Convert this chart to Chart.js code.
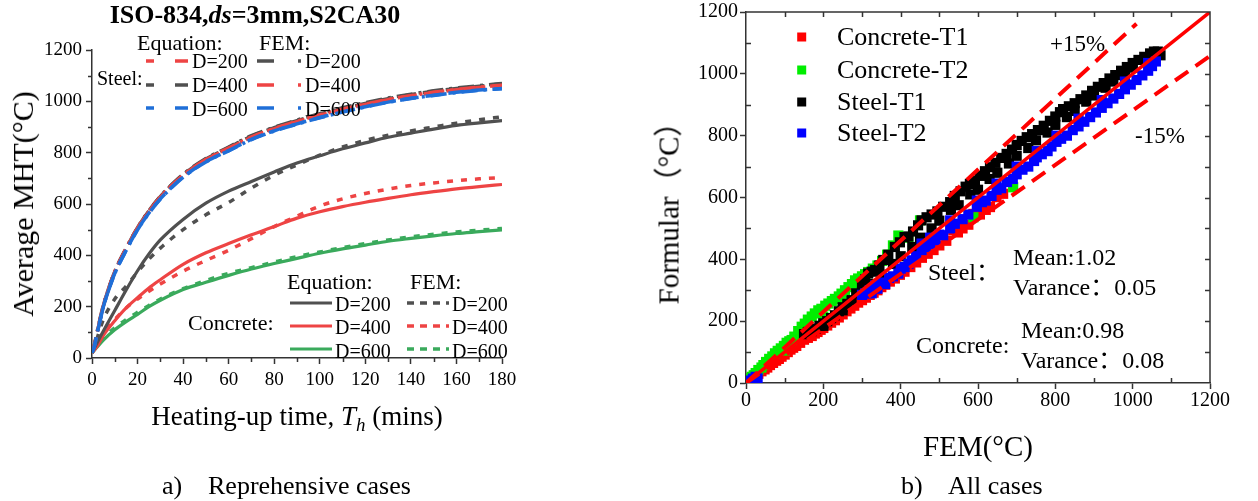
<!DOCTYPE html>
<html><head><meta charset="utf-8">
<script src="https://cdn.jsdelivr.net/npm/chart.js@4.4.1/dist/chart.umd.min.js"></script>
<style>
html,body{margin:0;padding:0;background:#fff}
body{width:1258px;height:501px;position:relative;overflow:hidden;font-family:"Liberation Serif","Times New Roman","Noto Sans CJK SC",serif;color:#000}
canvas{position:absolute;top:0}
#c1{left:0}
#c2{left:629px}
.t{position:absolute;white-space:nowrap;line-height:1;transform:translateY(-50%)}
.c{transform:translate(-50%,-50%)}
.r{transform:translate(-50%,-50%) rotate(-90deg)}
.cj{font-family:"Liberation Serif","Noto Sans CJK SC",serif}
</style></head>
<body>
<canvas id="c1" width="629" height="501"></canvas>
<canvas id="c2" width="629" height="501"></canvas>

<!-- panel a texts -->
<div class="t c" style="left:255px;top:15px;font-size:26px;font-weight:bold">ISO-834,<i>ds</i>=3mm,S2CA30</div>
<div class="t" style="left:137px;top:43px;font-size:22px">Equation:</div>
<div class="t" style="left:259px;top:43px;font-size:22px">FEM:</div>
<div class="t" style="left:97px;top:78px;font-size:20px">Steel:</div>
<div class="t" style="left:192px;top:61px;font-size:20px">D=200</div>
<div class="t" style="left:192px;top:85px;font-size:20px">D=400</div>
<div class="t" style="left:192px;top:109px;font-size:20px">D=600</div>
<div class="t" style="left:305px;top:61px;font-size:20px">D=200</div>
<div class="t" style="left:305px;top:85px;font-size:20px">D=400</div>
<div class="t" style="left:305px;top:109px;font-size:20px">D=600</div>
<div class="t" style="left:287px;top:282px;font-size:22px">Equation:</div>
<div class="t" style="left:410px;top:282px;font-size:22px">FEM:</div>
<div class="t" style="left:188px;top:323px;font-size:22px">Concrete:</div>
<div class="t" style="left:335px;top:304px;font-size:20px">D=200</div>
<div class="t" style="left:335px;top:327px;font-size:20px">D=400</div>
<div class="t" style="left:335px;top:351px;font-size:20px">D=600</div>
<div class="t" style="left:452px;top:304px;font-size:20px">D=200</div>
<div class="t" style="left:452px;top:327px;font-size:20px">D=400</div>
<div class="t" style="left:452px;top:351px;font-size:20px">D=600</div>
<div class="t r" style="left:23px;top:204px;font-size:30px">Average MHT(°C)</div>
<div class="t c" style="left:297px;top:416px;font-size:27px">Heating-up time, <i>T</i><sub style="font-size:0.7em;line-height:0;vertical-align:-0.35em"><i>h</i></sub> (mins)</div>
<div class="t" style="left:162px;top:486px;font-size:26px">a)</div>
<div class="t" style="left:208px;top:486px;font-size:26px">Reprehensive cases</div>

<!-- panel b texts -->
<div class="t" style="left:837px;top:37px;font-size:26px">Concrete-T1</div>
<div class="t" style="left:837px;top:70px;font-size:26px">Concrete-T2</div>
<div class="t" style="left:837px;top:102px;font-size:26px">Steel-T1</div>
<div class="t" style="left:837px;top:133px;font-size:26px">Steel-T2</div>
<div class="t" style="left:1050px;top:43px;font-size:23px">+15%</div>
<div class="t" style="left:1135px;top:135px;font-size:23px">-15%</div>
<div class="t cj" style="left:928px;top:272px;font-size:24px">Steel：</div>
<div class="t" style="left:1013px;top:257px;font-size:24px">Mean:1.02</div>
<div class="t cj" style="left:1013px;top:287px;font-size:24px">Varance：0.05</div>
<div class="t" style="left:916px;top:345px;font-size:24px">Concrete:</div>
<div class="t" style="left:1021px;top:330px;font-size:24px">Mean:0.98</div>
<div class="t cj" style="left:1021px;top:360px;font-size:24px">Varance：0.08</div>
<div class="t c" style="left:978px;top:446px;font-size:29px">FEM(°C)</div>
<div class="t r cj" style="left:669px;top:206px;font-size:29px">Formular（°C）</div>
<div class="t" style="left:901px;top:486px;font-size:26px">b)</div>
<div class="t" style="left:948px;top:486px;font-size:26px">All cases</div>

<script>
// ---------- panel a data ----------
const timeSteel = [0,1,2,3,5,7.5,10,15,20,25,30,35,40,50,60,70,80,90,100,110,120,130,140,150,160,170,180];
const steelEqD200  = [20,46,87,127,203,273,334,425,505,570,626,671,711,772,816,860,893,921,946,968,988,1006,1021,1034,1045,1054,1062];
const steelEqD400  = [20,47,88,128,204,275,336,427,507,573,629,674,714,775,820,864,897,925,950,972,992,1010,1026,1039,1050,1059,1068];
const steelEqD600  = [20,45,85,125,200,270,330,420,500,565,620,665,705,765,808,852,885,912,937,959,979,997,1012,1024,1035,1044,1050];
const steelFemD200 = [20,50,92,132,206,276,337,428,508,574,630,676,716,777,822,866,899,927,952,975,995,1013,1028,1041,1052,1061,1070];
const steelFemD400 = [20,48,89,129,204,274,335,426,506,571,627,672,712,773,818,861,894,922,947,969,989,1007,1022,1035,1046,1055,1063];
const steelFemD600 = [20,44,84,124,199,269,329,419,499,564,619,664,704,764,807,851,884,911,936,958,978,996,1011,1023,1034,1043,1049];

const timeConc = [0,2,5,10,15,20,25,30,40,50,60,70,80,90,100,110,120,130,140,150,160,170,180];
const concEqD200  = [20,55,105,185,265,340,405,460,540,603,650,688,725,760,788,815,838,860,876,892,906,916,925];
const concFemD200 = [20,70,150,230,280,335,385,428,500,558,606,662,712,752,790,822,848,868,885,900,915,928,940];
const concEqD400  = [20,42,88,145,195,235,273,305,365,410,446,480,512,545,570,590,607,622,636,648,659,668,676];
const concFemD400 = [20,48,95,150,195,230,260,288,338,380,420,465,512,553,592,620,641,658,672,682,691,698,703];
const concEqD600  = [20,40,70,110,142,170,200,225,267,295,322,347,368,388,408,425,440,455,466,476,485,492,499];
const concFemD600 = [20,45,78,118,150,178,205,230,270,302,330,352,374,395,413,430,446,460,472,482,491,498,505];

const tickTime = [0,20,40,60,80,100,120,140,160,180];
const minorTime = [10,30,50,70,90,110,130,150,170];
const tickTemp = [0,200,400,600,800,1000,1200];
const minorTemp = [100,300,500,700,900,1100];

// ---------- panel b data (FEM, Formular) ----------
const femConcreteT1  = [5,8,15,25,32,40,48,55,62,70,78,85,92,100,108,115,122,130,140,150,160,170,178,185,193,200,210,220,230,240,250,260,270,280,290,300,310,320,330,340,350,360,372,385,398,410,425,440,455,470,485,500,518,536,548,560,575,588,605,620,631,648,665];
const formConcreteT1 = [8,12,18,25,30,38,44,50,58,65,72,78,85,92,100,108,114,120,130,140,146,152,160,165,172,178,186,195,203,212,222,232,241,250,260,268,276,285,292,300,310,318,328,338,350,360,375,390,405,418,430,445,460,494,487,500,512,547,545,560,569,601,612];
const femConcreteT2  = [5,10,15,20,25,32,40,45,52,60,68,75,82,90,98,105,112,118,125,135,144,152,160,170,178,187,195,205,213,222,230,240,247,256,265,274,282,290,300,308,316,328,340,352,365,380,394,420,450,588,691,100,150,200,250];
const formConcreteT2 = [10,15,20,25,32,42,50,58,68,78,86,96,104,112,120,130,135,139,150,168,182,192,205,215,225,235,240,250,257,265,272,280,289,300,310,320,332,338,345,352,359,370,380,395,415,445,477,470,526,536,633,105,160,215,265];
const femSteelT1  = [150,160,170,180,190,200,210,220,230,240,250,262,273,285,300,308,316,325,334,345,355,368,385,398,410,420,432,445,454,467,480,495,510,528,540,555,568,579,592,605,618,631,645,660,674,688,700,713,726,740,755,770,786,800,812,820,835,850,865,880,895,910,925,940,955,970,985,1000,1015,1030,1045,1055,1065,1072,
                     200,250,300,350,400,450,500,550,600,650,700,750,800,850,900,950,1000,1050,330,380,430,480,530,580,630,680,730,780,830,880,930,980,1030];
const formSteelT1 = [158,165,168,176,185,193,200,210,219,232,245,256,268,290,320,335,354,360,365,380,398,415,440,455,472,474,490,510,526,536,545,555,570,585,605,620,635,644,655,670,685,698,712,728,741,755,770,783,795,805,818,832,848,862,876,886,895,905,918,930,945,958,970,985,996,1010,1022,1035,1045,1055,1066,1072,1072,1060,
                     185,235,295,350,410,470,525,575,625,680,735,785,835,880,930,975,1020,1060,320,385,440,500,560,610,660,710,760,810,860,910,955,1000,1045];
const femSteelT2  = [10,18,25,30,300,308,315,320,325,334,340,350,360,370,380,394,400,410,420,428,440,454,465,476,490,500,510,528,540,560,575,597,610,620,635,648,660,675,690,700,715,730,745,752,765,780,790,803,815,830,845,860,875,890,905,920,935,950,965,980,995,1010,1025,1040,1050,1060,
                     454,476,528,597,648,700,752,803,860,920,980,1040];
const formSteelT2 = [8,14,20,15,285,290,292,300,290,316,305,325,320,340,345,354,370,375,385,397,410,430,440,450,462,480,478,500,515,530,545,570,585,590,605,625,630,650,660,675,690,700,718,730,740,750,765,780,790,800,818,830,845,860,875,890,905,920,935,950,965,980,995,1010,1025,1040,
                     451,470,526,590,645,700,750,800,855,915,975,1035];
const refFem = [0,1200],   refForm = [0,1200];
const upperFem = [0,1010], upperForm = [0,1162];
const lowerFem = [0,1200], lowerForm = [0,1058];
const tickVal = [0,200,400,600,800,1000,1200];
const minorVal = [100,300,500,700,900,1100];

// ---------- styles ----------
const RED='#ee4444', GRAY='#505050', GREEN='#3aaa5c', BLUE='#1f6fd8';
const DASH_EQ=[16,7], DASH_FEM=[16,6,3,6], DOT=[6,8];
const FONT="'Liberation Serif', 'Times New Roman', serif";
Chart.defaults.font.family=FONT;
const pts=(xs,ys)=>xs.map((x,i)=>({x:x,y:ys[i]}));
function line(xs,ys,color,dash,w){return {data:pts(xs,ys),borderColor:color,borderDash:dash||[],borderWidth:w||3.2,pointRadius:0,fill:false,tension:0.4,cubicInterpolationMode:'monotone'};}
function setTicks(vals){return function(s){s.ticks=vals.map(v=>({value:v}));};}
const plain=v=>String(v);

// ---------- panel a ----------
const extrasA={id:'extrasA',afterDraw(chart){
  const {ctx,chartArea:a,scales:{x,y}}=chart;
  ctx.save();
  ctx.strokeStyle='#333';ctx.lineWidth=1.5;ctx.beginPath();
  minorTime.forEach(v=>{const p=Math.round(x.getPixelForValue(v))+0.5;ctx.moveTo(p,a.bottom);ctx.lineTo(p,a.bottom+4);});
  minorTemp.forEach(v=>{const p=Math.round(y.getPixelForValue(v))+0.5;ctx.moveTo(a.left,p);ctx.lineTo(a.left-4,p);});
  ctx.stroke();
  function sample(x0,x1,yy,color,dash,w){ctx.beginPath();ctx.setLineDash(dash);ctx.strokeStyle=color;ctx.lineWidth=w;ctx.moveTo(x0,yy);ctx.lineTo(x1,yy);ctx.stroke();}
  const eqS=[8,21,13,20], femS=[17,24,3,20];
  sample(146,189,61,RED,eqS,3.5); sample(146,189,85,GRAY,eqS,3.5); sample(146,189,108,BLUE,eqS,3.5);
  sample(257,303,61,GRAY,femS,3.5); sample(257,303,85,RED,femS,3.5); sample(257,303,108,BLUE,femS,3.5);
  sample(290,332,303,GRAY,[],3.2); sample(290,332,326,RED,[],3.2); sample(290,332,349,GREEN,[],3.2);
  sample(407,449,303,GRAY,[7,6],3.5); sample(407,449,326,RED,[7,6],3.5); sample(407,449,349,GREEN,[7,6],3.5);
  ctx.restore();
}};

new Chart(document.getElementById('c1'),{
  type:'line',
  data:{datasets:[
    line(timeSteel,steelFemD600,BLUE,DASH_FEM,3.5),
    line(timeSteel,steelEqD600,BLUE,DASH_EQ,3.5),
    line(timeSteel,steelFemD400,RED,DASH_FEM,3.5),
    line(timeSteel,steelEqD200,RED,DASH_EQ,3.5),
    line(timeSteel,steelFemD200,GRAY,DASH_FEM,3.5),
    line(timeSteel,steelEqD400,GRAY,DASH_EQ,3.5),
    line(timeConc,concFemD200,GRAY,DOT,3.5),
    line(timeConc,concEqD200,GRAY,[],3.2),
    line(timeConc,concFemD400,RED,DOT,3.5),
    line(timeConc,concEqD400,RED,[],3.2),
    line(timeConc,concFemD600,GREEN,DOT,3.5),
    line(timeConc,concEqD600,GREEN,[],3.2)
  ]},
  options:{
    responsive:false,animation:false,
    layout:{padding:{left:0,top:50,right:127,bottom:113}},
    plugins:{legend:{display:false},tooltip:{enabled:false}},
    scales:{
      x:{type:'linear',min:0,max:180,afterBuildTicks:setTicks(tickTime),
         ticks:{callback:plain,color:'#000',font:{family:FONT,size:19,lineHeight:1},padding:7,maxRotation:0},
         grid:{drawOnChartArea:false,tickLength:6,tickColor:'#333',tickWidth:1.5},
         border:{color:'#333',width:1.5},afterFit(s){s.height=30;}},
      y:{type:'linear',min:0,max:1200,afterBuildTicks:setTicks(tickTemp),
         ticks:{callback:plain,color:'#000',font:{family:FONT,size:19,lineHeight:1},padding:4},
         grid:{drawOnChartArea:false,tickLength:6,tickColor:'#333',tickWidth:1.5},
         border:{color:'#333',width:1.5},afterFit(s){s.width=92;}}
    }
  },
  plugins:[extrasA]
});

// ---------- panel b ----------
const extrasB={id:'extrasB',afterDraw(chart){
  const {ctx,chartArea:a,scales:{x,y}}=chart;
  ctx.save();
  ctx.strokeStyle='#333';ctx.lineWidth=1.5;ctx.beginPath();
  ctx.moveTo(a.left,a.top);ctx.lineTo(a.right,a.top);ctx.lineTo(a.right,a.bottom);
  minorVal.forEach(v=>{const p=Math.round(x.getPixelForValue(v))+0.5;ctx.moveTo(p,a.bottom);ctx.lineTo(p,a.bottom-5);
                       const q=Math.round(y.getPixelForValue(v))+0.5;ctx.moveTo(a.left,q);ctx.lineTo(a.left+5,q);});
  minorVal.concat(tickVal.slice(1,-1)).forEach(v=>{const p=Math.round(x.getPixelForValue(v))+0.5;ctx.moveTo(p,a.top);ctx.lineTo(p,a.top+5);
                       const q=Math.round(y.getPixelForValue(v))+0.5;ctx.moveTo(a.right,q);ctx.lineTo(a.right-5,q);});
  ctx.stroke();
  const lg=[['#ff0000',37],['#00ee00',70],['#000000',102],['#0000ff',133]];
  lg.forEach(([c,yy])=>{ctx.fillStyle=c;ctx.fillRect(172.7-4.5,yy-4.5,9,9);});
  ctx.restore();
}};
function scat(xs,ys,color){return {type:'scatter',data:pts(xs,ys),pointStyle:'rect',pointRadius:7.2,pointHoverRadius:7.2,backgroundColor:color,borderWidth:0,showLine:false};}
function ref(xs,ys,dash,w){return {type:'line',data:pts(xs,ys),borderColor:'#ff0000',borderDash:dash,borderWidth:w,pointRadius:0,fill:false,tension:0};}

new Chart(document.getElementById('c2'),{
  type:'scatter',
  data:{datasets:[
    ref(refFem,refForm,[],3.5),
    ref(upperFem,upperForm,[16,9],4),
    ref(lowerFem,lowerForm,[16,9],4),
    scat(femSteelT2,formSteelT2,'#0000ff'),
    scat(femSteelT1,formSteelT1,'#000000'),
    scat(femConcreteT2,formConcreteT2,'#00ee00'),
    scat(femConcreteT1,formConcreteT1,'#ff0000')
  ]},
  options:{
    responsive:false,animation:false,
    layout:{padding:{left:0,top:11,right:48,bottom:88}},
    plugins:{legend:{display:false},tooltip:{enabled:false}},
    scales:{
      x:{type:'linear',min:0,max:1200,afterBuildTicks:setTicks(tickVal),
         ticks:{callback:plain,color:'#000',font:{family:FONT,size:20,lineHeight:1},padding:2,maxRotation:0},
         grid:{drawOnChartArea:false,tickLength:6,tickColor:'#333',tickWidth:1.5},
         border:{color:'#333',width:1.5},afterFit(s){s.height=30;}},
      y:{type:'linear',min:0,max:1200,afterBuildTicks:setTicks(tickVal),
         ticks:{callback:plain,color:'#000',font:{family:FONT,size:20,lineHeight:1},padding:2},
         grid:{drawOnChartArea:false,tickLength:6,tickColor:'#333',tickWidth:1.5},
         border:{color:'#333',width:1.5},afterFit(s){s.width=117;}}
    }
  },
  plugins:[extrasB]
});
</script>
</body></html>
